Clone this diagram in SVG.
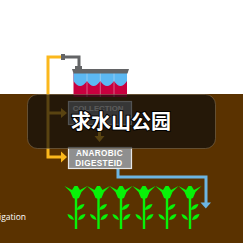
<svg xmlns="http://www.w3.org/2000/svg" width="243" height="243" viewBox="0 0 243 243">
  <style>
    .pipe { fill: none; stroke-linejoin: miter; }
    .yellow { stroke: #fbb81c; stroke-width: 3; }
    .grey { stroke: #636466; stroke-width: 3; }
    .blue { stroke: #6cb6e2; stroke-width: 3; }
    .box { stroke: #e6e6e6; stroke-width: 1.2; fill: #8f8f8f; }
    .boxlabel { font-family: "Liberation Sans", Arial, sans-serif; font-weight: bold; font-size: 8.2px; letter-spacing: .35px; fill: #fff; text-anchor: middle; }
    .plant { fill: #08f208; }
  </style>
  <defs>
    <g id="plant" class="plant">
      <rect x="-1.200" y="192" width="2.400" height="37"/>
      <path d="M-11.500 186 L-4 190 L-1.500 186 H1.500 L4 190 L11.500 186 L5.500 192 L3 198 L0 199 L-3 198 L-5.500 192 Z"/>
      <path d="M0.500 210 Q2 204.500 8.500 204 Q7.500 209.500 0.500 210 Z"/>
      <path d="M2 220 Q3 214.500 9.500 214 Q8.500 219.500 2 220 Z"/>
      <path d="M-2 220 Q-3 215 -8.500 214 Q-8 219 -2 220 Z"/>
    </g>
  </defs>

  <rect width="243" height="243" fill="#fff"/>
  <rect id="ground" x="0" y="94" width="243" height="149" fill="#5a3200"/>

  <g id="tank">
    <rect x="73.500" y="73" width="53.500" height="24" fill="#c8003f"/>
    <path d="M73.500 73 H127 V81 Q120.500 91 114 81 Q107 91 100.300 81 Q93.500 91 87 81 Q80 91 73.500 81 Z" fill="#5cb8f2"/>
    <path d="M87 73 V97 M100.300 73 V97 M114 73 V97" stroke="#e8e8ee" stroke-width=".6" opacity=".7"/>
    <path d="M72 69 H129 L127.500 73.500 H73.500 Z" fill="#636466"/>
  </g>

  <g id="connectors">
    <path class="pipe yellow" d="M48 94 V57 H62"/>
    <path class="pipe yellow" d="M48 94 V157 H62"/>
    <path d="M61 151.500 L67 157 L61 162.500 Z" fill="#fbb81c"/>
    <path class="pipe yellow" d="M48 113 H62"/>
    <path d="M61 108 L67 113 L61 118 Z" fill="#fbb81c"/>
    <path class="pipe grey" d="M62 57 H79 V70"/>
    <rect x="61" y="54" width="4" height="6" fill="#636466"/>
    <rect x="75" y="66" width="7" height="5" fill="#636466"/>
    <path class="pipe yellow" d="M99.500 124 V138"/>
    <path d="M94.500 136 L99.500 142 L104.500 136 Z" fill="#fbb81c"/>
    <path class="pipe blue" d="M118 168 V177 H206 V204"/>
    <path d="M200.500 202.500 H211 L205.800 208.500 Z" fill="#6cb6e2"/>
  </g>

  <g id="collection">
    <rect class="box" x="68.500" y="101.500" width="63" height="23"/>
    <text class="boxlabel" x="98" y="111" style="font-size:7.800px;letter-spacing:0">COLLECTION</text>
  </g>

  <g id="digester">
    <rect class="box" x="68.500" y="147.500" width="63" height="21"/>
    <text class="boxlabel" x="99.500" y="155.500">ANAROBIC</text>
    <text class="boxlabel" x="99" y="166">DIGESTEID</text>
  </g>

  <g id="plants">
    <use href="#plant" x="76"/>
    <use href="#plant" x="98.500"/>
    <use href="#plant" x="121"/>
    <use href="#plant" x="144"/>
    <use href="#plant" x="167"/>
    <use href="#plant" x="190"/>
  </g>

  <text id="side-label" x="-1" y="220" font-family="'Open Sans', sans-serif" font-size="8.500" fill="#fff">igation</text>

  <g id="title">
    <rect x="27.500" y="94.500" width="188" height="54" rx="10" fill="#0c0c0c" fill-opacity=".68" stroke="#8a7a60" stroke-opacity=".5"/>
    <text x="121" y="129" text-anchor="middle" font-family="'Noto Sans CJK SC', 'Noto Sans', sans-serif" font-weight="bold" font-size="20" fill="#fff" stroke="#000" stroke-width="2" paint-order="stroke">求水山公园</text>
  </g>
</svg>
